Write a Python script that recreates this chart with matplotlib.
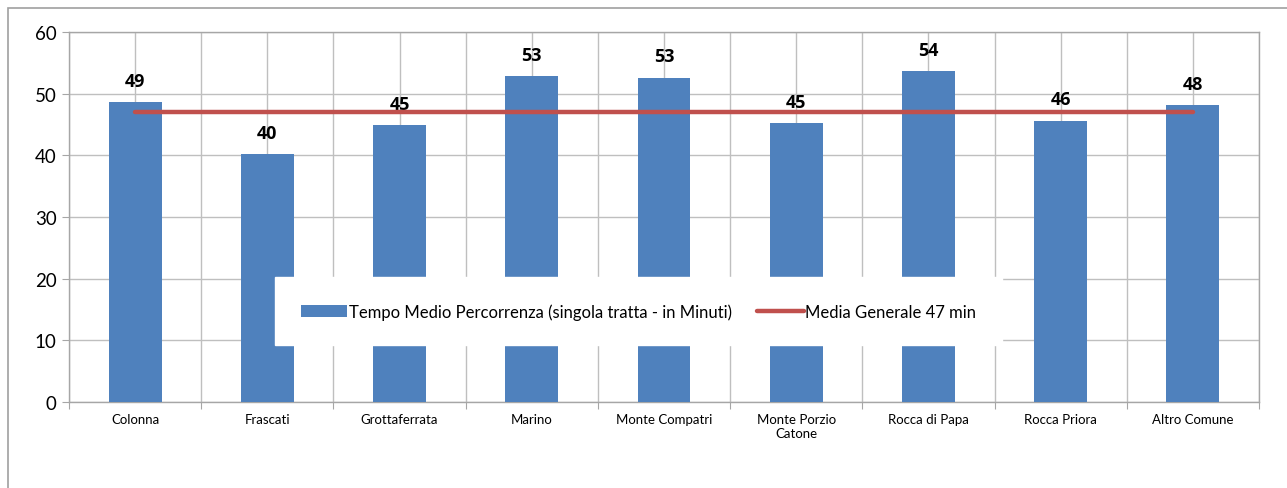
import matplotlib.pyplot as plt
from matplotlib.patches import Rectangle

# dati
comuni = ["Colonna", "Frascati", "Grottaferrata", "Marino", "Monte Compatri",
          "Monte Porzio\nCatone", "Rocca di Papa", "Rocca Priora", "Altro Comune"]
tempo_medio = [48.6, 40.2, 44.9, 52.8, 52.6, 45.2, 53.6, 45.6, 48.1]
media_generale = [47] * len(comuni)

blu = "#4F81BD"
rosso = "#C0504D"
grigio = "#A6A6A6"

plt.rcParams["font.family"] = ["Lato", "DejaVu Sans"]

fig = plt.figure(figsize=(12.87, 4.89), dpi=100)
ax = fig.add_axes([69 / 1287, 1 - 403 / 489, 1190 / 1287, 370 / 489])

x = list(range(len(comuni)))
barre = ax.bar(x, tempo_medio, width=0.4, color=blu,
               label="Tempo Medio Percorrenza (singola tratta - in Minuti)", zorder=3)
linea, = ax.plot(x, media_generale, color=rosso, linewidth=3.2, solid_capstyle="round",
                 label="Media Generale 47 min", zorder=4)
ax.bar_label(barre, fmt="%.0f", padding=9, fontsize=13, fontweight="bold",
             family=["Open Sans", "DejaVu Sans"])

# assi
ax.set_xlim(-0.5, len(comuni) - 0.5)
ax.set_ylim(0, 60)
ax.set_yticks(range(0, 61, 10))
ax.set_xticks([i - 0.5 for i in range(len(comuni) + 1)])
ax.set_xticklabels([])
ax.set_xticks(x, minor=True)
ax.set_xticklabels(comuni, minor=True, fontsize=9.5)
ax.tick_params(axis="x", which="major", length=5, color=grigio)
ax.tick_params(axis="x", which="minor", length=0, pad=8)
ax.tick_params(axis="y", length=5, color=grigio, labelsize=13.5, pad=4)
ax.grid(True, axis="x", which="both", color="#BFBFBF", linewidth=1, zorder=0)
ax.grid(True, axis="y", which="major", color="#BFBFBF", linewidth=1, zorder=0)
for lato in ax.spines.values():
    lato.set_color(grigio)
    lato.set_linewidth(1)

# legenda
leg = ax.legend([barre, linea], [barre.get_label(), linea.get_label()],
                loc="center", bbox_to_anchor=(0.4786, 0.245), ncol=2, fontsize=12,
                frameon=True, fancybox=False, framealpha=1, edgecolor="white",
                borderpad=1.55, handlelength=2.8, handletextpad=0.1, columnspacing=1.5)
leg.set_zorder(5)

# bordo del grafico
fig.patches.append(Rectangle((8 / 1287, -0.1), 1.1, 1 - 9 / 489 + 0.1,
                             transform=fig.transFigure, fill=False,
                             edgecolor="#A0A0A0", linewidth=1.2))

fig.savefig("out.png", dpi=100)
